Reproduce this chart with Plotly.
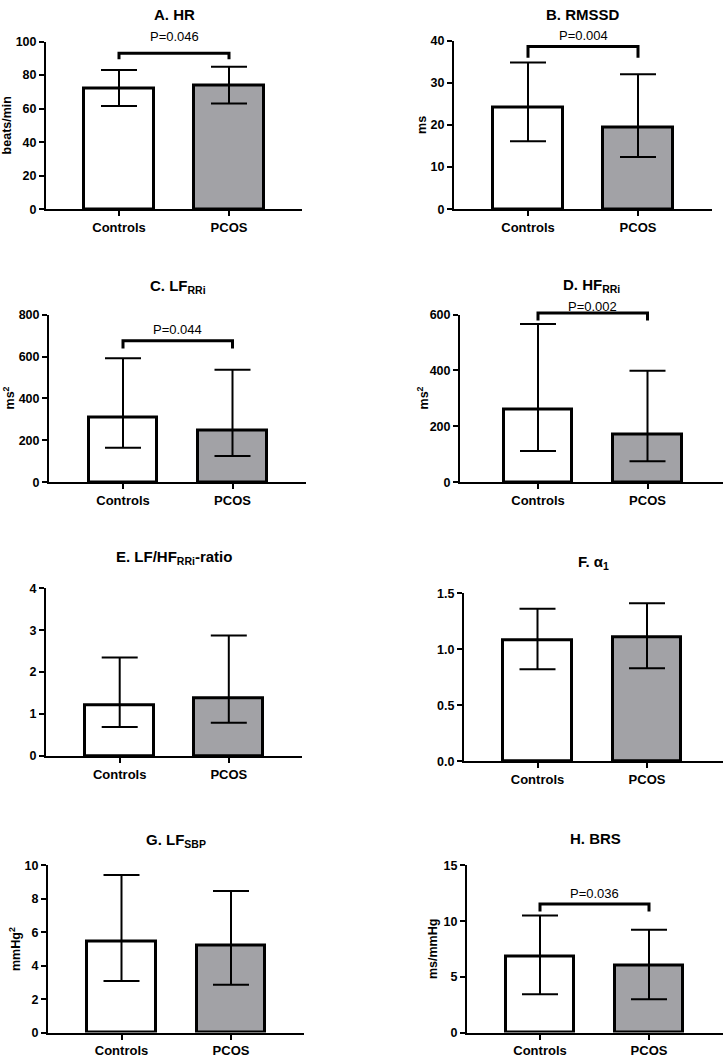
import plotly.graph_objects as go

# ---------------- data ----------------
categories = ["Controls", "PCOS"]

panel_titles = ["A. HR", "B. RMSSD", "C. LF<sub>RRi</sub>", "D. HF<sub>RRi</sub>",
                "E. LF/HF<sub>RRi</sub>-ratio", "F. α<sub>1</sub>",
                "G. LF<sub>SBP</sub>", "H. BRS"]
y_titles = ["beats/min", "ms", "ms<sup>2</sup>", "ms<sup>2</sup>", "", "",
            "mmHg<sup>2</sup>", "ms/mmHg"]

hr_mid, hr_hi, hr_lo = [72, 74], [83, 85], [61.5, 63]
rmssd_mid, rmssd_hi, rmssd_lo = [24.2, 19.3], [34.8, 32.0], [16.1, 12.4]
lf_mid, lf_hi, lf_lo = [308, 248], [592, 537], [165, 125]
hf_mid, hf_hi, hf_lo = [259, 170], [566, 399], [112, 75]
ratio_mid, ratio_hi, ratio_lo = [1.21, 1.37], [2.35, 2.87], [0.69, 0.79]
alpha_mid, alpha_hi, alpha_lo = [1.08, 1.11], [1.36, 1.41], [0.82, 0.83]
lfsbp_mid, lfsbp_hi, lfsbp_lo = [5.47, 5.20], [9.43, 8.47], [3.08, 2.86]
brs_mid, brs_hi, brs_lo = [6.87, 6.02], [10.5, 9.24], [3.43, 2.98]

y_max = [100, 40, 800, 600, 4, 1.5, 10, 15]
y_dtick = [20, 10, 200, 200, 1, 0.5, 2, 5]
p_labels = ["P=0.046", "P=0.004", "P=0.044", "P=0.002", None, None, None, "P=0.036"]

series = [(hr_mid, hr_hi, hr_lo), (rmssd_mid, rmssd_hi, rmssd_lo),
          (lf_mid, lf_hi, lf_lo), (hf_mid, hf_hi, hf_lo),
          (ratio_mid, ratio_hi, ratio_lo), (alpha_mid, alpha_hi, alpha_lo),
          (lfsbp_mid, lfsbp_hi, lfsbp_lo), (brs_mid, brs_hi, brs_lo)]

# ---------------- layout geometry (pixels) ----------------
W, H = 723, 1059
# xl, xr, controls centre, pcos centre, y top, y bottom
geom = [
    (46, 302, 119, 229, 35, 205),
    (454, 712, 528, 638, 34, 205),
    (49, 306, 123, 232.5, 311.7, 481.7),
    (460, 723, 538, 647.5, 311.7, 481.7),
    (46, 302, 119.7, 228.8, 589, 759),
    (464, 723, 537.5, 647, 594, 764.3),
    (48, 304, 121.5, 231, 870, 1039.3),
    (467, 723, 540, 649, 870, 1039.3),
]
title_y_px = [8, 8, 283, 282, 558, 563, 845, 843]
ytitle_x_px = [7, 422, 9, 423, None, None, 15, 433]
# bracket: top, leg end, p-text position (data units)
brackets = {0: (93, 89.4, 102.9), 1: (38.6, 35.9, 41.2), 2: (675, 638, 729),
            3: (606, 579, 629.6), 7: (11.54, 10.86, 12.5)}

FONT = "Arial, Liberation Sans, Helvetica, sans-serif"
GRAY = "#a2a2a6"

fig = go.Figure()
annotations = []
shapes = []

for i, (mid, hi, lo) in enumerate(series):
    n = i + 1
    xs = "" if n == 1 else str(n)
    xl, xr, c0, c1, yt, yb = geom[i]
    s = c1 - c0
    fig.add_trace(go.Bar(
        x=categories, y=mid,
        xaxis="x" + xs, yaxis="y" + xs,
        width=0.63,
        marker=dict(color=["white", GRAY], line=dict(color="black", width=3)),
        error_y=dict(type="data", symmetric=False,
                     array=[h - m for h, m in zip(hi, mid)],
                     arrayminus=[m - l for m, l in zip(mid, lo)],
                     color="black", thickness=2, width=18),
        showlegend=False, hoverinfo="skip",
    ))
    axcommon = dict(showline=True, linecolor="black", linewidth=2,
                    ticks="outside", ticklen=5, tickwidth=2, tickcolor="black",
                    showgrid=False, zeroline=False, fixedrange=True,
                    tickfont=dict(family=FONT, size=12.5, color="black", weight="bold"))
    fig.update_layout(**{
        "xaxis" + xs: dict(axcommon, domain=[xl / W, xr / W],
                           range=[(xl - c0) / s, 1 + (xr - c1) / s],
                           anchor="y" + xs,
                           tickfont=dict(family=FONT, size=13, color="black", weight="bold")),
        "yaxis" + xs: dict(axcommon, domain=[1 - yb / H, 1 - yt / H],
                           range=[0, y_max[i]], dtick=y_dtick[i], anchor="x" + xs,
                           tickformat=".1f" if i == 5 else None),
    })
    # panel title
    annotations.append(dict(text=panel_titles[i], xref="x" + xs + " domain", x=0.5,
                            yref="paper", y=1 - title_y_px[i] / H,
                            xanchor="center", yanchor="middle", showarrow=False,
                            font=dict(family=FONT, size=15, color="black", weight="bold")))
    # y-axis title
    if y_titles[i]:
        annotations.append(dict(text=y_titles[i], textangle=-90,
                                xref="paper", x=ytitle_x_px[i] / W,
                                yref="paper", y=1 - (yt + yb) / 2 / H,
                                xanchor="center", yanchor="middle", showarrow=False,
                                font=dict(family=FONT, size=12.5, color="black", weight="bold")))
    # significance bracket
    if i in brackets:
        top, leg, ptxt = brackets[i]
        ym = y_max[i]
        shapes.append(dict(type="path", xref="x" + xs, yref="y" + xs + " domain",
                           path=f"M 0,{leg / ym} L 0,{top / ym} L 1,{top / ym} L 1,{leg / ym}",
                           line=dict(color="black", width=3)))
        annotations.append(dict(text=p_labels[i], xref="x" + xs, x=0.5,
                                yref="y" + xs + " domain", y=ptxt / ym,
                                xanchor="center", yanchor="middle", showarrow=False,
                                font=dict(family=FONT, size=13, color="black")))

fig.update_layout(width=W, height=H, autosize=False,
                  margin=dict(l=0, r=0, t=0, b=0),
                  paper_bgcolor="white", plot_bgcolor="white",
                  annotations=annotations, shapes=shapes, bargap=0)

fig.write_html("out.html", config={"displayModeBar": False},
               post_script="document.body.style.margin='0';document.body.style.overflow='hidden';")
